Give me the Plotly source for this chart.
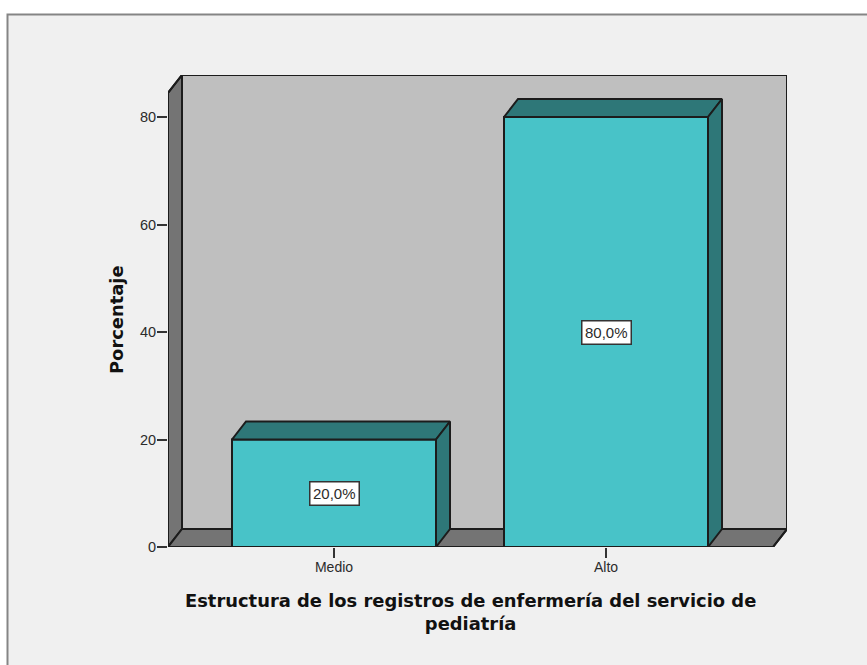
import plotly.graph_objects as go

categories = ["Medio", "Alto"]
values = [20.0, 80.0]
y_ticks = [0, 20, 40, 60, 80]
x_title = "Estructura de los registros de enfermería del servicio de<br>pediatría"
y_title = "Porcentaje"

W, H = 867, 665
L, R, T, B = 168, 787, 75, 547
PX_Y = 5.375
PX_X = 272.0
DX, DY = 14 / PX_X, 18 / PX_Y
BAR = 204 / PX_X
x0 = (L - 334) / PX_X
x1 = (R - 334) / PX_X
y1 = (B - T) / PX_Y
top = y1 - DY
front_r = x1 - DX

EDGE = "#1c1c1c"
FACE = "#48c3c8"
DARK = "#2e7778"
WALL = "#747474"
BACK = "#bfbfbf"
PANEL = "#f0f0f0"
TXT = "#2b2b2b"
LW = 2


def poly(xs, ys, color):
    d = "M" + " L".join(f"{a},{b}" for a, b in zip(xs, ys)) + " Z"
    return dict(type="path", path=d, xref="x", yref="y", fillcolor=color,
                line=dict(color=EDGE, width=LW), layer="below")


shapes = [
    dict(type="rect", xref="paper", yref="paper",
         x0=(7.5 - L) / (R - L), x1=(W + 20 - L) / (R - L),
         y0=(B - H - 20) / (B - T), y1=(B - 14.5) / (B - T),
         fillcolor=PANEL, line=dict(color="#858585", width=2), layer="below"),
    poly([x0 + DX, x1, x1, x0 + DX], [DY, DY, y1, y1], BACK),
    poly([x0, x0 + DX, x0 + DX, x0], [0, DY, y1, top], WALL),
    poly([x0, x0 + DX, x1, front_r], [0, DY, DY, 0], WALL),
]

fig = go.Figure()
fig.add_trace(go.Bar(x=list(range(len(values))), y=values, width=BAR,
                     marker=dict(color=FACE, line=dict(color=EDGE, width=LW)),
                     cliponaxis=False, hoverinfo="skip", showlegend=False))

for i, v in enumerate(values):
    a, b = i - BAR / 2, i + BAR / 2
    fig.add_trace(go.Scatter(x=[a, a + DX, b + DX, b, a], y=[v, v + DY, v + DY, v, v],
                             mode="lines", fill="toself", fillcolor=DARK,
                             line=dict(color=EDGE, width=LW), cliponaxis=False,
                             hoverinfo="skip", showlegend=False))
    fig.add_trace(go.Scatter(x=[b, b + DX, b + DX, b, b], y=[v, v + DY, DY, 0, v],
                             mode="lines", fill="toself", fillcolor=DARK,
                             line=dict(color=EDGE, width=LW), cliponaxis=False,
                             hoverinfo="skip", showlegend=False))

# outer edges of the frame, which would otherwise be clipped at the plot border
fig.add_trace(go.Scatter(
    x=[front_r, x0, x0, x0 + DX, x1, x1, front_r],
    y=[0, 0, top, y1, y1, DY, 0],
    mode="lines", line=dict(color=EDGE, width=LW),
    cliponaxis=False, hoverinfo="skip", showlegend=False))

annotations = [
    dict(x=i, y=v / 2, xref="x", yref="y", text=f"{v:.1f}%".replace(".", ","),
         showarrow=False, bgcolor="white", bordercolor="#333333", borderwidth=1.5,
         borderpad=2.5, font=dict(family="Liberation Sans", size=15, color=TXT))
    for i, v in enumerate(values)
]
TITLE_FONT = dict(family="DejaVu Sans", size=17.9, color="#111111")
annotations.append(dict(x=((L + R - 14) / 2 - L) / (R - L), y=(B - 611.5) / (B - T),
                        xref="paper", yref="paper", xanchor="center",
                        text="<b>" + x_title.replace("<br>", "</b><br><b>") + "</b>",
                        showarrow=False, yanchor="middle", align="center", font=TITLE_FONT))
annotations.append(dict(x=(116 - L) / (R - L), y=(B - 320) / (B - T), xref="paper", yref="paper",
                        xanchor="center", yanchor="middle",
                        text="<b>" + y_title + "</b>", textangle=-90, showarrow=False,
                        font=TITLE_FONT))

fig.update_layout(
    width=W, height=H, autosize=False,
    margin=dict(l=L, r=W - R, t=T, b=H - B, pad=0),
    paper_bgcolor="white", plot_bgcolor="rgba(0,0,0,0)",
    shapes=shapes, annotations=annotations, showlegend=False,
    font=dict(family="Liberation Sans", size=14, color=TXT),
    xaxis=dict(range=[x0, x1], tickmode="array", tickvals=list(range(len(categories))),
               ticktext=categories, ticks="outside", ticklen=10, tickwidth=1.5,
               tickcolor="#333333", showgrid=False, zeroline=False, showline=False,
               ticklabelstandoff=-3, tickfont=dict(size=14, color=TXT)),
    yaxis=dict(range=[0, y1], tickmode="array", tickvals=y_ticks, ticks="outside",
               ticklen=10, tickwidth=1.5, tickcolor="#333333", showgrid=False,
               zeroline=False, showline=False, ticklabelstandoff=-2,
               tickfont=dict(size=14.5, color=TXT)),
)

fig.write_html("out.html", config={"displayModeBar": False},
               post_script="document.body.style.margin='0';")
